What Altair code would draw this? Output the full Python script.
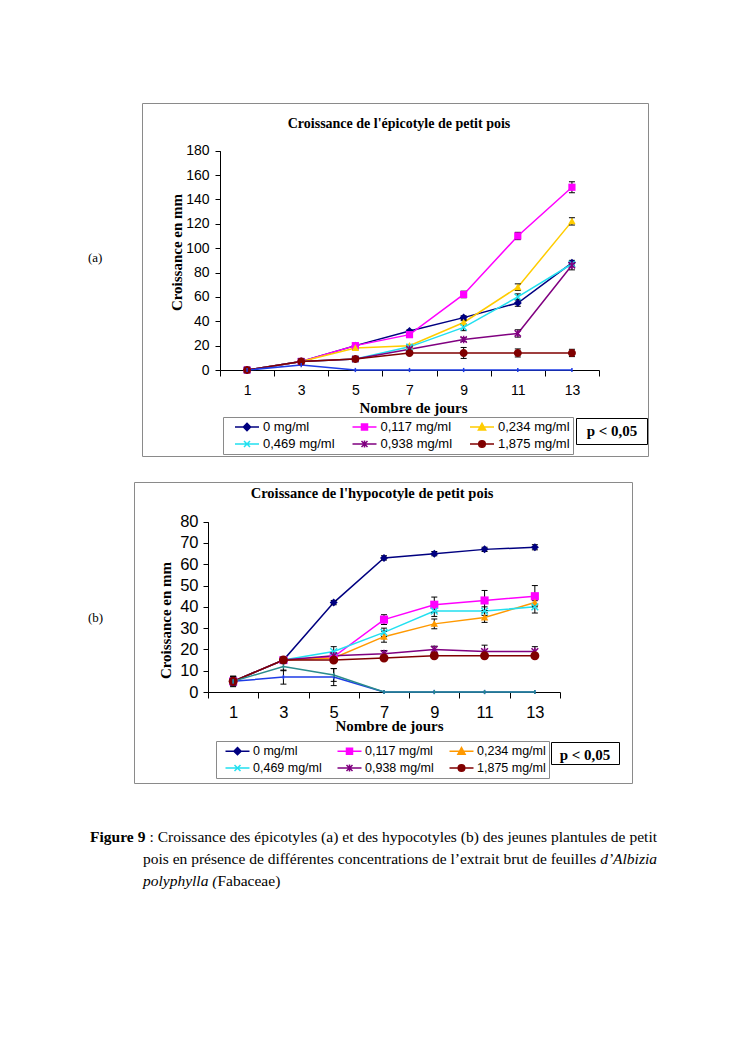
import altair as alt
import pandas as pd

# ---------------- data ----------------
days = [1, 3, 5, 7, 9, 11, 13]
series = ["0 mg/ml", "0,117 mg/ml", "0,234 mg/ml", "0,469 mg/ml", "0,938 mg/ml", "1,875 mg/ml"]

# (a) epicotyle growth (mm)
epi_0 = [0, 7, 20, 32, 43, 55, 88]
epi_0117 = [0, 7, 20, 29, 62, 110, 150]
epi_0234 = [0, 7, 18, 20, 39, 68, 122]
epi_0469 = [0, 7, 9, 19, 35, 60, 87]
epi_0938 = [0, 7, 9, 17, 25, 30, 86]
epi_1875 = [0, 7, 9, 14, 14, 14, 14]
epi_extra = [0, 4, 0, 0, 0, 0, 0]

epi_err_0 = [0.5, 0.5, 1, 1, 1.5, 2.7, 2]
epi_err_0117 = [0.5, 0.5, 1, 2, 2.7, 3, 4.5]
epi_err_0234 = [0.5, 0.5, 1, 1, 1.5, 2.7, 3]
epi_err_0469 = [0.5, 0.5, 1, 1.5, 2.7, 2.5, 2]
epi_err_0938 = [0.5, 0.5, 1, 1, 1.5, 3, 3.8]
epi_err_1875 = [0.5, 0.5, 1, 1, 4.5, 3.3, 3]
epi_err_extra = [0, 0, 0, 0, 0, 0, 0]

# (b) hypocotyle growth (mm)
hyp_0 = [5, 15, 42, 63, 65, 67, 68]
hyp_0117 = [5, 15, 16.5, 34, 41, 43, 45]
hyp_0234 = [5, 15, 16, 26, 32, 35, 42]
hyp_0469 = [5, 15, 19, 28, 38, 38, 40]
hyp_0938 = [5, 15, 17, 18, 20, 19, 19]
hyp_1875 = [5, 15, 15, 16, 17, 17, 17]
hyp_extra = [5, 7, 7, 0, 0, 0, 0]
hyp_extra2 = [5, 12, 8, 0, 0, 0, 0]

hyp_err_0 = [1, 1, 1, 1, 1, 1, 1.2]
hyp_err_0117 = [2, 1, 1.5, 2.3, 3.6, 4.7, 5]
hyp_err_0234 = [2, 1, 1.5, 2.6, 2.3, 2.3, 1.5]
hyp_err_0469 = [2, 1, 2.3, 2, 2.5, 2, 2.9]
hyp_err_0938 = [2, 1, 1.5, 1.5, 1.5, 3, 2.3]
hyp_err_1875 = [2.5, 1, 1, 1, 1, 1, 1]
hyp_err_extra = [2, 3.3, 4, 0, 0, 0, 0]
hyp_err_extra2 = [2, 2, 3, 0, 0, 0, 0]

colors_a = ["#000080", "#FF00FF", "#FFCC00", "#22E0F0", "#800080", "#800000", "#1E3CE6"]
colors_b = ["#000080", "#FF00FF", "#FF9900", "#22E0F0", "#800080", "#800000", "#1E3CE6", "#2A8C8C"]

# caption words (text content)
cap_line1 = [("Figure", "b"), ("9", "b"), (":", "r"), ("Croissance", "r"), ("des", "r"), ("épicotyles", "r"),
             ("(a)", "r"), ("et", "r"), ("des", "r"), ("hypocotyles", "r"), ("(b)", "r"), ("des", "r"),
             ("jeunes", "r"), ("plantules", "r"), ("de", "r"), ("petit", "r")]
cap_line2 = [("pois", "r"), ("en", "r"), ("présence", "r"), ("de", "r"), ("différentes", "r"),
             ("concentrations", "r"), ("de", "r"), ("l’extrait", "r"), ("brut", "r"), ("de", "r"),
             ("feuilles", "r"), ("d’Albizia", "i")]
cap_line3 = [("polyphylla (", "i"), ("Fabaceae)", "r")]

# ---------------- shapes ----------------
mk_diamond = "M0,-1L1,0L0,1L-1,0Z"
mk_square = "M-0.9,-0.9H0.9V0.9H-0.9Z"
mk_triangle = "M0,-1L1,0.8H-1Z"
mk_x = "M-0.9,-0.9L0.9,0.9M-0.9,0.9L0.9,-0.9"
mk_star = "M-0.9,-0.9L0.9,0.9M-0.9,0.9L0.9,-0.9M0,-1.05V1.05"
mk_circle = "M-1,0A1,1 0 1,1 1,0A1,1 0 1,1 -1,0Z"
mk_tick = "M0,-0.7V0.7"
marker_shapes = [mk_diamond, mk_square, mk_triangle, mk_x, mk_star, mk_circle]
marker_filled = [True, True, True, False, False, True]

legend_shapes = [
    "M-2,0H2M0,-0.6L0.6,0L0,0.6L-0.6,0Z",
    "M-2,0H2M-0.5,-0.5H0.5V0.5H-0.5Z",
    "M-2,0H2M0,-0.6L0.6,0.5H-0.6Z",
    "M-2,0H2M-0.5,-0.5L0.5,0.5M-0.5,0.5L0.5,-0.5",
    "M-2,0H2M-0.5,-0.5L0.5,0.5M-0.5,0.5L0.5,-0.5M0,-0.6V0.6",
    "M-2,0H2M-0.55,0A0.55,0.55 0 1,1 0.55,0A0.55,0.55 0 1,1 -0.55,0Z",
]

W, H = 728, 960
SERIF = "Liberation Serif"
SANS = "Liberation Sans"


def long_df(vals, errs, names):
    rows = []
    for name, v, e in zip(names, vals, errs):
        for d, y, er in zip(days, v, e):
            rows.append({"series": name, "day": d, "value": y, "err": er,
                         "lo": y - er, "hi": y + er})
    return pd.DataFrame(rows)


names_a = series + ["extra"]
df_a = long_df([epi_0, epi_0117, epi_0234, epi_0469, epi_0938, epi_1875, epi_extra],
               [epi_err_0, epi_err_0117, epi_err_0234, epi_err_0469, epi_err_0938, epi_err_1875, epi_err_extra],
               names_a)
names_b = series + ["extra", "extra2"]
df_b = long_df([hyp_0, hyp_0117, hyp_0234, hyp_0469, hyp_0938, hyp_1875, hyp_extra, hyp_extra2],
               [hyp_err_0, hyp_err_0117, hyp_err_0234, hyp_err_0469, hyp_err_0938, hyp_err_1875, hyp_err_extra, hyp_err_extra2],
               names_b)


def panel(df, names, colors, cfg):
    xs = alt.Scale(type="band", domain=days, range=cfg["xrange"], paddingInner=0, paddingOuter=0)
    ys = alt.Scale(domain=[0, cfg["ymax"]], range=cfg["yrange"], nice=False)
    xaxis = alt.Axis(orient="bottom", offset=cfg["xoffset"], tickBand="extent", labelAngle=0,
                     title="Nombre de jours", titleFont=SERIF, titleFontSize=15, titleFontWeight="bold",
                     titleX=cfg["xtitleX"], titleY=cfg["xtitleY"], titleBaseline="alphabetic",
                     titleColor="black", labelFont=SANS, labelFontSize=cfg["fs"], labelColor="black",
                     labelPadding=cfg["xlabpad"], tickSize=6, tickColor="black", domainColor="black",
                     grid=False)
    yaxis = alt.Axis(orient="left", offset=cfg["yoffset"], values=cfg["yticks"],
                     title="Croissance en mm", titleFont=SERIF, titleFontSize=15, titleFontWeight="bold",
                     titleX=cfg["ytitleX"], titleY=cfg["ytitleY"], titleBaseline="middle", titleAngle=270,
                     titleColor="black", labelFont=SANS, labelFontSize=cfg["fs"], labelColor="black",
                     labelPadding=cfg["ylabpad"], tickSize=5, tickColor="black", domainColor="black",
                     grid=False)
    X = alt.X("day:O", scale=xs, axis=xaxis)
    Y = alt.Y("value:Q", scale=ys, axis=yaxis)
    layers = []
    for i, n in enumerate(names):
        sub = df[df["series"] == n]
        layers.append(alt.Chart(sub).mark_line(color=colors[i], strokeWidth=1.5).encode(x=X, y=Y))
    eb = df[df["err"] > 0]
    layers.append(alt.Chart(eb).mark_rule(color="black", strokeWidth=1).encode(
        x=X, y=alt.Y("lo:Q", scale=ys, axis=yaxis), y2="hi:Q"))
    for fld in ["lo", "hi"]:
        layers.append(alt.Chart(eb).mark_tick(color="black", thickness=1, size=6, opacity=1).encode(
            x=X, y=alt.Y(fld + ":Q", scale=ys, axis=yaxis)))
    for i, n in enumerate(names):
        sub = df[df["series"] == n]
        if i < 6:
            shp, filled, sz = marker_shapes[i], marker_filled[i], cfg["msize"][i]
        else:
            shp, filled, sz = mk_tick, False, 36
        layers.append(alt.Chart(sub).mark_point(shape=shp, filled=filled, color=colors[i], size=sz,
                                                strokeWidth=1.5, opacity=1).encode(x=X, y=Y))
    # legend-only layer
    leg = alt.Legend(title=None, orient="none", legendX=cfg["legX"], legendY=cfg["legY"], columns=3,
                     direction="horizontal",
                     symbolSize=144, symbolOffset=cfg["symOff"], labelOffset=cfg["labOff"],
                     columnPadding=cfg["colPad"], rowPadding=3, padding=3, strokeColor="#8a8a8a",
                     fillColor="white", labelFont=SANS, labelFontSize=cfg["legfs"], labelColor="black",
                     symbolStrokeWidth=1.5, symbolOpacity=1)
    cs = alt.Scale(domain=series, range=colors[:6])
    ldf = pd.DataFrame({"series": series, "day": days[:6], "value": [0] * 6})
    layers.append(alt.Chart(ldf).transform_filter("false").mark_point(filled=True, size=144, opacity=1,
                                                                       strokeWidth=1.5).encode(
        x=X, y=Y,
        fill=alt.Fill("series:N", scale=cs, legend=leg),
        stroke=alt.Stroke("series:N", scale=cs, legend=leg),
        shape=alt.Shape("series:N", scale=alt.Scale(domain=series, range=legend_shapes), legend=leg)))
    return alt.layer(*layers)


cfg_a = dict(xrange=[212, 591], ymax=180, yrange=[362, 142.7], xoffset=-(H - 362), yoffset=-212,
             yticks=list(range(0, 181, 20)), xtitleX=405, xtitleY=42, ytitleX=-44, ytitleY=244,
             fs=14, xlabpad=7, ylabpad=6, msize=[64, 64, 56, 49, 49, 64],
             legX=215, legY=409, symOff=14, labOff=9, colPad=8.5, legfs=13)
cfg_b = dict(xrange=[200, 552], ymax=80, yrange=[684, 513.7], xoffset=-(H - 684), yoffset=-200,
             yticks=list(range(0, 81, 10)), xtitleX=381, xtitleY=38, ytitleX=-43, ytitleY=612,
             fs=16.5, xlabpad=6, ylabpad=5, msize=[64, 81, 56, 56, 56, 81],
             legX=208, legY=733, symOff=11.5, labOff=8.5, colPad=9, legfs=12.5)

panel_a = panel(df_a, names_a, colors_a, cfg_a)
panel_b = panel(df_b, names_b, colors_b, cfg_b)

# ---------------- annotations ----------------
anno = pd.DataFrame({"k": [0]})


def frame(x1, y1, x2, y2, color):
    return alt.Chart(anno).mark_rect(fill="transparent", stroke=color, strokeWidth=1).encode(
        x=alt.value(x1), x2=alt.value(x2), y=alt.value(y1), y2=alt.value(y2))


def txt(s, x, y, size, weight="normal", style="normal", align="left"):
    return alt.Chart(anno).mark_text(text=s, align=align, baseline="alphabetic", font=SERIF, fontSize=size,
                                     fontWeight=weight, fontStyle=style, color="black").encode(
        x=alt.value(x), y=alt.value(y))


# approximate Times widths (per 1000 em) used only to justify the caption lines
W_REG = dict(zip(" abcdefghijklmnopqrstuvwxyzéCF():’", [250, 444, 500, 444, 500, 444, 333, 500, 500, 278, 278, 500,
                                                        278, 778, 500, 500, 500, 500, 333, 389, 278, 500, 500, 722,
                                                        500, 500, 444, 444, 667, 556, 333, 333, 278, 333]))
W_ITA = dict(zip(" Aabdhilopyz’(", [250, 611, 500, 500, 500, 500, 278, 278, 500, 500, 444, 389, 333, 333]))
W_BLD = dict(zip("Figure9", [611, 278, 500, 556, 444, 444, 500]))


def wwidth(word, style, fs):
    table = {"r": W_REG, "i": W_ITA, "b": W_BLD}[style]
    return sum(table.get(ch, W_REG.get(ch, 500)) for ch in word) * fs / 1000.0


def line_texts(words, x0, x1, y, fs, justify=True):
    widths = [wwidth(w, s, fs) for w, s in words]
    gaps = len(words) - 1
    if justify and gaps > 0:
        gap = (x1 - x0 - sum(widths)) / gaps
    else:
        gap = 0
    out = []
    x = x0
    for (w, s), wd in zip(words, widths):
        out.append(txt(w, x, y, fs, weight="bold" if s == "b" else "normal",
                       style="italic" if s == "i" else "normal"))
        x += wd + gap
    return out


decor = [
    frame(134.5, 95.5, 640.5, 448.5, "#8a8a8a"),
    frame(126.5, 474.5, 624.5, 775.5, "#8a8a8a"),
    frame(568.5, 410.5, 639.5, 436.5, "black"),
    frame(543.5, 734.5, 611.5, 756.5, "black"),
]
texts = [
    txt("Croissance de l'épicotyle de petit pois", 391, 120, 14, "bold", align="center"),
    txt("Croissance de l'hypocotyle de petit pois", 364, 490, 14.5, "bold", align="center"),
    txt("p < 0,05", 604, 428, 15, "bold", align="center"),
    txt("p < 0,05", 577, 752, 15, "bold", align="center"),
    txt("(a)", 80, 254, 13),
    txt("(b)", 80, 614, 13),
]
CAP_FS = 15.5
texts += line_texts(cap_line1, 82, 649, 834, CAP_FS)
texts += line_texts(cap_line2, 135, 649, 856, CAP_FS)
texts += line_texts(cap_line3, 135, 0, 878, CAP_FS, justify=False)

chart = alt.layer(*decor, panel_a, panel_b, *texts).resolve_scale(
    x="independent", y="independent", fill="independent", stroke="independent", shape="independent"
).properties(
    width=W, height=H, autosize=alt.AutoSizeParams(type="none"), padding=0
).configure_view(stroke=None)

chart.save("out.html", embed_options={"renderer": "svg", "actions": False})
